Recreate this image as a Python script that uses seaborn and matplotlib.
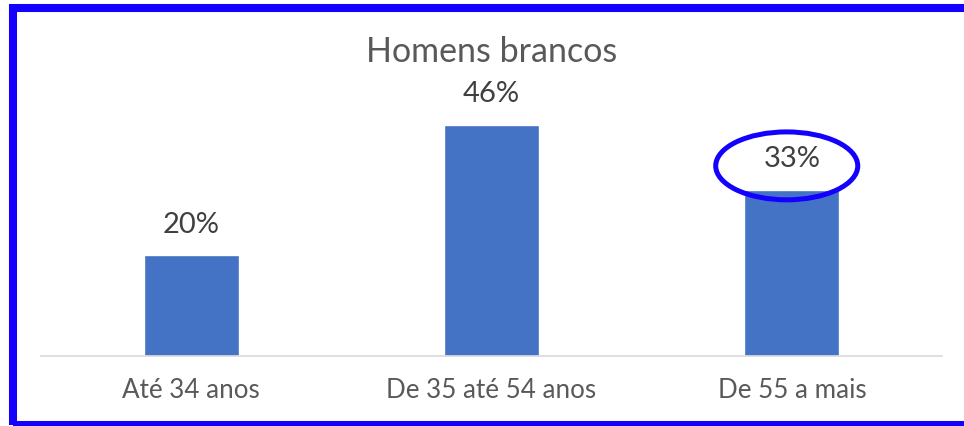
import matplotlib
matplotlib.use("Agg")
import matplotlib.pyplot as plt
from matplotlib.patches import Ellipse, Rectangle
import seaborn as sns
import pandas as pd

categorias = ["Até 34 anos", "De 35 até 54 anos", "De 55 a mais"]
valores = [20, 46, 33]
rotulos = ["20%", "46%", "33%"]
titulo = "Homens brancos"

sns.set_style("white")
plt.rcParams["font.family"] = ["Lato", "DejaVu Sans"]

df = pd.DataFrame({"faixa": categorias, "pct": valores})

fig = plt.figure(figsize=(9.64, 4.26), dpi=100)
ax = fig.add_axes([41 / 964, 70 / 426, 901 / 964, 251.5 / 426])

sns.barplot(data=df, x="faixa", y="pct", color="#4472C4", saturation=1,
            width=0.317, ax=ax)

ax.set_ylim(0, 50)
ax.set_xlim(-0.5, 2.5)
ax.set_xlabel("")
ax.set_ylabel("")
ax.set_yticks([])
for s in ["top", "right", "left"]:
    ax.spines[s].set_visible(False)
ax.spines["bottom"].set_color("#D9D9D9")
ax.spines["bottom"].set_linewidth(1.2)
ax.tick_params(axis="x", length=0, pad=16, labelsize=18.7, labelcolor="#595959")

# rótulos de dados
for i, (v, r) in enumerate(zip(valores, rotulos)):
    ax.annotate(r, (i, v), xytext=(0, 22), textcoords="offset points",
                ha="center", va="center", fontsize=21, color="#404040")

# destaque no último valor
ax.add_patch(Ellipse((2 - 0.017, valores[2] + 4.8), 0.473, 13.5,
                     fill=False, edgecolor="#1400FF", linewidth=3.6,
                     clip_on=False, zorder=5))

fig.text(491.5 / 964, 364 / 426, titulo, ha="center", va="baseline",
         fontsize=24.5, color="#595959")

# moldura azul
fig.patches.append(Rectangle((12.5 / 964, 1 / 426), 1.0, (418.5 - 1) / 426,
                             transform=fig.transFigure, fill=False,
                             edgecolor="#1400FF", linewidth=5.8,
                             clip_on=False, zorder=10))

fig.savefig("out.png", dpi=100)
